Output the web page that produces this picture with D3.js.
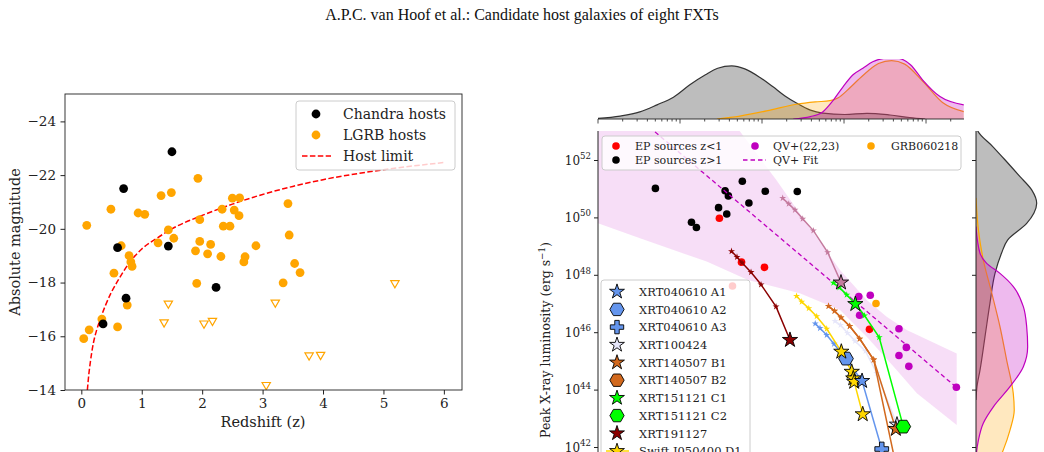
<!DOCTYPE html>
<html><head><meta charset="utf-8">
<script src="https://cdn.jsdelivr.net/npm/d3@7"></script>
<style>body{margin:0;background:#fff;overflow:hidden}svg{display:block;font-family:"DejaVu Serif";}</style>
</head><body><svg id="c" width="1044" height="452"></svg>
<script>
// ---------------- LEFT PANEL DATA ----------------
const chandraZ = [0.36, 0.60, 0.70, 0.74, 1.44, 1.50, 2.23];
const chandraM = [-16.46, -19.30, -21.50, -17.42, -19.36, -22.87, -17.82];
const lgrbZ = [0.04,0.09,0.13,0.34,0.49,0.54,0.60,0.66,0.76,0.79,0.82,0.84,0.94,1.05,1.27,1.32,1.44,1.49,1.53,1.89,1.91,1.93,1.96,1.96,2.09,2.14,2.31,2.35,2.33,2.46,2.50,2.53,2.62,2.61,2.69,2.71,2.89,3.34,3.42,3.44,3.53,3.62];
const lgrbM = [-15.91,-20.13,-16.24,-16.64,-20.73,-18.35,-16.35,-19.37,-17.16,-19.00,-18.77,-18.60,-20.59,-20.54,-19.48,-21.24,-19.96,-21.35,-19.65,-19.18,-17.97,-21.88,-20.34,-19.53,-19.07,-19.42,-18.97,-20.10,-20.73,-20.10,-21.14,-20.70,-21.15,-20.49,-18.77,-18.96,-19.37,-17.99,-20.94,-19.77,-18.71,-18.37];
const limitZ = [1.37,1.44,2.03,2.17,3.06,3.21,3.77,3.96,5.19];
const limitM = [-16.52,-17.22,-16.48,-16.58,-14.19,-17.26,-15.29,-15.31,-17.98];
const hostLimitZ = [0.1,0.125,0.15,0.2,0.25,0.3,0.4,0.5,0.6,0.8,1.0,1.25,1.5,2.0,2.5,3.0,3.5,4.0,5.0,6.0];
const hostLimitM = [-14.0,-14.6,-15.05,-15.75,-16.2,-16.55,-17.15,-17.65,-18.05,-18.75,-19.25,-19.65,-20.0,-20.5,-20.92,-21.28,-21.58,-21.83,-22.2,-22.47];
const leftXTicks = [0,1,2,3,4,5,6];
const leftYTicks = [-24,-22,-20,-18,-16,-14];

// ---------------- RIGHT PANEL DATA (log10 values) ----------------
const epLowT = [1.48, 1.75, 2.03, 3.31, 1.64];
const epLowL = [49.97, 48.44, 48.26, 46.10, 47.61];
const epHighT = [0.70, 1.14, 1.20, 1.47, 1.55, 1.59, 1.57, 1.76, 1.84, 2.04, 2.43];
const epHighL = [51.01, 49.83, 49.65, 50.34, 50.93, 50.75, 50.12, 51.26, 50.50, 50.91, 50.90];
const qvT = [3.18, 3.32, 3.19, 3.67, 3.76, 3.67, 3.79, 4.37];
const qvL = [47.24, 47.29, 46.59, 46.12, 45.47, 45.19, 44.81, 44.08];
const grbT = [3.39];
const grbL = [47.0];
const fitT = [0.695, 4.366];
const fitL = [52.98, 44.09];
const bandUpT = [0, 1.73, 2.175, 2.545, 2.951, 3.277, 3.52, 3.765, 4.374];
const bandUpL = [58.0, 53.0, 51.30, 49.79, 48.17, 47.12, 46.54, 46.08, 45.26];
const bandLoT = [0, 0.512, 1.325, 1.829, 2.46, 2.951, 3.277, 3.606, 3.888, 4.374];
const bandLoL = [49.80, 49.27, 48.46, 47.82, 47.36, 46.77, 45.84, 44.80, 43.87, 42.77];

const xrt191127T = [1.628,1.695,1.756,1.866,1.988,2.171,2.341];
const xrt191127L = [48.82,48.62,48.42,48.09,47.66,46.89,45.73];
const mauveT = [2.252,2.326,2.402,2.496,2.626,2.801,2.963];
const mauveL = [50.67,50.47,50.26,49.95,49.54,48.78,47.73];
const xrt151121T = [2.870,2.943,3.033,3.138,3.250,3.429,3.723];
const xrt151121L = [47.72,47.56,47.30,46.98,46.58,45.82,42.71];
const xrt140507B1T = [2.811,2.884,2.963,3.070,3.191,3.362,3.632];
const xrt140507B1L = [46.91,46.74,46.51,46.21,45.77,45.04,42.63];
const xrt140507B2T = [2.811,2.884,2.963,3.070,3.191,3.362,3.66];
const xrt140507B2L = [46.91,46.74,46.51,46.21,45.77,45.04,41.0];
const xrt100424T = [2.890,2.957,3.043,3.134,3.262,3.399,3.646];
const xrt100424L = [46.39,46.25,45.97,45.69,45.34,44.57,42.78];
const xrt040610T = [2.649,2.707,2.789,2.878,2.972,3.024,3.220,3.460];
const xrt040610L = [46.30,46.14,45.90,45.59,45.26,45.08,44.30,41.93];
const swiftD1T = [2.421,2.484,2.570,2.667,2.789,2.967,3.094,3.113,3.124,3.228];
const swiftD1L = [47.26,47.06,46.83,46.55,46.12,45.32,44.62,44.39,44.27,43.14];

const kdeTopGrayT = [0,0.27,0.51,0.72,0.92,1.12,1.31,1.46,1.63,1.79,1.98,2.13,2.28,2.42,2.59,2.74,3.01,3.28,3.56,3.80,3.99];
const kdeTopGrayD = [0.01,0.05,0.12,0.24,0.37,0.58,0.75,0.86,0.90,0.85,0.70,0.55,0.39,0.27,0.15,0.10,0.076,0.097,0.068,0.025,0];
const kdeTopOrangeT = [1.45,1.73,2.10,2.42,2.65,2.83,2.93,3.05,3.17,3.29,3.42,3.58,3.74,3.96,4.21,4.46];
const kdeTopOrangeD = [0,0.05,0.15,0.25,0.29,0.31,0.36,0.50,0.66,0.81,0.94,0.99,0.93,0.64,0.27,0.124];
const kdeTopMagT = [2.38,2.59,2.74,2.87,2.99,3.11,3.23,3.35,3.52,3.65,3.81,3.96,4.17,4.46];
const kdeTopMagD = [0,0.04,0.12,0.32,0.55,0.75,0.86,0.97,1.03,1.03,0.92,0.66,0.38,0.24];
const kdeRightGrayL = [53.3,53.01,52.46,52.0,51.42,50.95,50.49,50.15,49.79,49.21,48.75,48.05,47.01,45.84,44.68,44.10,43.64];
const kdeRightGrayD = [0,0.03,0.28,0.48,0.725,0.92,1.0,0.955,0.835,0.52,0.42,0.313,0.23,0.148,0.066,0.016,0];
const kdeRightOrangeL = [50.68,49.56,48.52,47.36,46.19,45.03,43.87,43.29,42.59,41.90,41.2,40.5];
const kdeRightOrangeD = [0,0.04,0.12,0.26,0.395,0.505,0.614,0.63,0.56,0.45,0.3,0.15];
const kdeRightMagL = [49.68,48.75,48.40,48.05,47.59,46.89,46.19,45.49,44.80,44.10,43.40,42.83,42.24,41.83,41.3];
const kdeRightMagD = [0,0.066,0.176,0.395,0.615,0.78,0.835,0.851,0.78,0.56,0.286,0.12,0.04,0.01,0];

const lumTicks = [52,50,48,46,44,42];
const topLegend = ["EP sources z<1","EP sources z>1","QV+(22,23)","QV+ Fit","GRB060218"];
const fxtLegend = ["XRT040610 A1","XRT040610 A2","XRT040610 A3","XRT100424","XRT140507 B1","XRT140507 B2","XRT151121 C1","XRT151121 C2","XRT191127","Swift J050400 D1"];

// ---------------- DRAW ----------------
const svg = d3.select('#c');
const zip = (a,b) => a.map((v,i)=>[v,b[i]]);
const P = v => Math.pow(10, v);

svg.append('text').attr('x',522).attr('y',20).attr('text-anchor','middle')
  .style('font-family','"Liberation Serif"').style('font-size','16px').attr('fill','#111')
  .text('A.P.C. van Hoof et al.: Candidate host galaxies of eight FXTs');

// ===== Left panel =====
const xL = d3.scaleLinear().domain([-0.27,6.30]).range([65,462]);
const yL = d3.scaleLinear().domain([-14,-25.02]).range([390,94]);
const gL = svg.append('g');
const ax1 = gL.append('g').attr('transform','translate(0,390)')
  .call(d3.axisBottom(xL).tickValues(leftXTicks).tickFormat(d3.format('d')).tickSize(4.5).tickPadding(3.5));
const ay1 = gL.append('g').attr('transform','translate(65,0)')
  .call(d3.axisLeft(yL).tickValues(leftYTicks).tickFormat(d3.format('d')).tickSize(4.5).tickPadding(4.5));
[ax1,ay1].forEach(a=>{a.select('.domain').remove();a.selectAll('text').style('font-family','DejaVu Serif').style('font-size','13.5px').attr('fill','#222');a.selectAll('line').attr('stroke','#222');});
gL.append('defs').append('clipPath').attr('id','clipL').append('rect').attr('x',65).attr('y',94).attr('width',397).attr('height',296);
const pL = gL.append('g').attr('clip-path','url(#clipL)');
pL.append('path').datum(zip(hostLimitZ,hostLimitM))
  .attr('d', d3.line().x(d=>xL(d[0])).y(d=>yL(d[1])).curve(d3.curveMonotoneX))
  .attr('fill','none').attr('stroke','#ff0000').attr('stroke-width',1.5).attr('stroke-dasharray','5.5,2.4');
pL.selectAll('.lg').data(zip(lgrbZ,lgrbM)).enter().append('circle')
  .attr('cx',d=>xL(d[0])).attr('cy',d=>yL(d[1])).attr('r',4.4).attr('fill','#ffa500');
pL.selectAll('.ch').data(zip(chandraZ,chandraM)).enter().append('circle')
  .attr('cx',d=>xL(d[0])).attr('cy',d=>yL(d[1])).attr('r',4.4).attr('fill','#000');
pL.selectAll('.lim').data(zip(limitZ,limitM)).enter().append('path')
  .attr('d', d3.symbol().type(d3.symbolTriangle).size(30))
  .attr('transform',d=>`translate(${xL(d[0])},${yL(d[1])}) rotate(180)`)
  .attr('fill','#fff').attr('stroke','#ffa500').attr('stroke-width',1.2);
gL.append('rect').attr('x',65).attr('y',94).attr('width',397).attr('height',296).attr('fill','none').attr('stroke','#222').attr('stroke-width',0.9);
// legend
const lgL = gL.append('g');
lgL.append('rect').attr('x',296).attr('y',101).attr('width',159).attr('height',69).attr('rx',3)
  .attr('fill','rgba(255,255,255,0.8)').attr('stroke','#cccccc');
lgL.append('circle').attr('cx',316).attr('cy',114).attr('r',4.4).attr('fill','#000');
lgL.append('circle').attr('cx',316).attr('cy',135).attr('r',4.4).attr('fill','#ffa500');
lgL.append('line').attr('x1',302).attr('x2',331).attr('y1',156).attr('y2',156).attr('stroke','#ff0000').attr('stroke-width',1.5).attr('stroke-dasharray','5.5,2.4');
['Chandra hosts','LGRB hosts','Host limit'].forEach((t,i)=>lgL.append('text').attr('x',343).attr('y',119+i*21).style('font-size','14px').attr('fill','#222').text(t));
gL.append('text').attr('x',263).attr('y',427).attr('text-anchor','middle').style('font-size','14.5px').attr('fill','#222').text('Redshift (z)');
gL.append('text').attr('transform','translate(19.5,242) rotate(-90)').attr('text-anchor','middle').style('font-size','14.5px').attr('fill','#222').text('Absolute magnitude');

// ===== Right panel =====
const xR = d3.scaleLog().domain([1, P(4.463)]).range([598,964]);
const yR = d3.scaleLog().domain([P(53), P(40)]).range([131.3,504.4]);
const line = d3.line().x(d=>xR(P(d[0]))).y(d=>yR(P(d[1])));
const defs = svg.append('defs');
defs.append('clipPath').attr('id','clipM').append('rect').attr('x',598).attr('y',131).attr('width',366).attr('height',400);
defs.append('clipPath').attr('id','clipT').append('rect').attr('x',598).attr('y',59).attr('width',366).attr('height',60);
defs.append('clipPath').attr('id','clipR').append('rect').attr('x',976).attr('y',131).attr('width',70).attr('height',400);

// top KDE
const yK = d3.scaleLinear().domain([0,1]).range([119,60]);
const gT = svg.append('g').attr('clip-path','url(#clipT)');
const areaT = d3.area().x(d=>xR(P(d[0]))).y0(119).y1(d=>yK(d[1])).curve(d3.curveMonotoneX);
const lineT = d3.line().x(d=>xR(P(d[0]))).y(d=>yK(d[1])).curve(d3.curveMonotoneX);
[[kdeTopGrayT,kdeTopGrayD,'rgba(0,0,0,0.26)','#333'],[kdeTopOrangeT,kdeTopOrangeD,'rgba(255,165,0,0.25)','#ffa500'],[kdeTopMagT,kdeTopMagD,'rgba(191,0,191,0.27)','#bf00bf']].forEach(([t,d,f,s])=>{
  const dat = zip(t,d);
  gT.append('path').datum(dat).attr('d',areaT).attr('fill',f);
  gT.append('path').datum(dat).attr('d',lineT).attr('fill','none').attr('stroke',s).attr('stroke-width',1.2);
});
const tAx = svg.append('g').attr('transform','translate(0,119)');
tAx.append('line').attr('x1',598).attr('x2',964).attr('stroke','#222').attr('stroke-width',0.9);
const minorT = [];
for(let e=0;e<5;e++) for(let k=1;k<10;k++){const v=k*P(e); if(v<=P(4.463)) minorT.push({v,major:k===1});}
tAx.selectAll('.tk').data(minorT).enter().append('line')
  .attr('x1',d=>xR(d.v)).attr('x2',d=>xR(d.v)).attr('y1',0).attr('y2',d=>d.major?4.5:2.5).attr('stroke','#222').attr('stroke-width',0.8);

// right KDE
const xK = d3.scaleLinear().domain([0,1]).range([976,1036.7]);
const gR = svg.append('g').attr('clip-path','url(#clipR)');
const areaR = d3.area().y(d=>yR(P(d[0]))).x0(976).x1(d=>xK(d[1])).curve(d3.curveMonotoneY);
const lineR = d3.line().y(d=>yR(P(d[0]))).x(d=>xK(d[1])).curve(d3.curveMonotoneY);
[[kdeRightGrayL,kdeRightGrayD,'rgba(0,0,0,0.26)','#333'],[kdeRightOrangeL,kdeRightOrangeD,'rgba(255,165,0,0.25)','#ffa500'],[kdeRightMagL,kdeRightMagD,'rgba(191,0,191,0.27)','#bf00bf']].forEach(([l,d,f,s])=>{
  const dat = zip(l,d);
  gR.append('path').datum(dat).attr('d',areaR).attr('fill',f);
  gR.append('path').datum(dat).attr('d',lineR).attr('fill','none').attr('stroke',s).attr('stroke-width',1.2);
});
const rAx = svg.append('g').attr('transform','translate(976,0)')
  .call(d3.axisLeft(yR).tickValues(lumTicks.map(P)).tickFormat('').tickSize(4));
rAx.select('.domain').attr('d','M0,131V460').attr('stroke','#222');
rAx.selectAll('line').attr('stroke','#222');

// main panel
const gM = svg.append('g').attr('clip-path','url(#clipM)');
const bandPoly = zip(bandUpT,bandUpL).concat(zip(bandLoT,bandLoL).reverse());
gM.append('path').datum(bandPoly).attr('d', line.curve(d3.curveLinear)(bandPoly)+'Z')
  .attr('fill','rgba(191,0,191,0.13)');
const dot = (T,L,c)=>gM.selectAll(null).data(zip(T,L)).enter().append('circle')
  .attr('cx',d=>xR(P(d[0]))).attr('cy',d=>yR(P(d[1]))).attr('r',3.8).attr('fill',c);
dot(epHighT,epHighL,'#000');
dot(epLowT,epLowL,'#ff0000');
dot(qvT,qvL,'#bf00bf');
dot(grbT,grbL,'#ffa500');
gM.append('path').datum(zip(fitT,fitL)).attr('d',line).attr('fill','none').attr('stroke','#bf00bf').attr('stroke-width',1.3).attr('stroke-dasharray','4.5,3');

const hexType = {draw(ctx,size){const r=Math.sqrt(size/2.598);for(let i=0;i<6;i++){const a=i*Math.PI/3;const x=r*Math.cos(a),y=r*Math.sin(a);if(i)ctx.lineTo(x,y);else ctx.moveTo(x,y);}ctx.closePath();}};
const shapes = {star:[d3.symbolStar,72], hex:[hexType,140], plus:[d3.symbolCross,105]};
const curves = [
  {T:mauveT,L:mauveL,c:'#c47a9e',big:{6:'star'}},
  {T:xrt191127T,L:xrt191127L,c:'#8b0000',big:{6:'star'}},
  {T:xrt100424T,L:xrt100424L,c:'#e6e6fa',big:{6:'star'}},
  {T:xrt040610T,L:xrt040610L,c:'#6495ed',big:{5:'hex',6:'star',7:'plus'}},
  {T:swiftD1T,L:swiftD1L,c:'#ffd700',big:{5:'star',6:'star',7:'star',8:'star',9:'star'}},
  {T:xrt140507B2T,L:xrt140507B2L,c:'#d2691e',big:{6:'hex'}},
  {T:xrt140507B1T,L:xrt140507B1L,c:'#d2691e',big:{6:'star'}},
  {T:xrt151121T,L:xrt151121L,c:'#00ff00',big:{3:'star',6:'hex'}},
];
curves.forEach(cv=>{
  const dat = zip(cv.T,cv.L);
  gM.append('path').datum(dat).attr('d',line).attr('fill','none').attr('stroke',cv.c).attr('stroke-width',1.5);
  gM.selectAll(null).data(dat.filter((d,i)=>!(i in cv.big))).enter().append('path')
    .attr('d',d3.symbol().type(d3.symbolStar).size(15))
    .attr('transform',d=>`translate(${xR(P(d[0]))},${yR(P(d[1]))})`).attr('fill',cv.c);
});
const bigOrder = [[3,5],[4,5],[4,6],[4,7],[4,8],[3,6],[4,9],[3,7],[2,6],[5,6],[6,6],[7,3],[7,6],[1,6],[0,6]];
bigOrder.forEach(([ci,pi])=>{
  const cv=curves[ci]; const sh=shapes[cv.big[pi]];
  gM.append('path').attr('d',d3.symbol().type(sh[0]).size(sh[1]))
    .attr('transform',`translate(${xR(P(cv.T[pi]))},${yR(P(cv.L[pi]))})`)
    .attr('fill',cv.c).attr('stroke','#000').attr('stroke-width',0.9);
});

// left axis of main
const mAx = svg.append('g').attr('transform','translate(598,0)')
  .call(d3.axisLeft(yR).tickValues(lumTicks.map(P)).tickFormat('').tickSize(4));
mAx.select('.domain').attr('d','M0,131V460').attr('stroke','#222');
mAx.selectAll('line').attr('stroke','#222');
lumTicks.forEach(e=>{
  const t = svg.append('text').attr('x',591).attr('y',yR(P(e))+4.5).attr('text-anchor','end').style('font-size','12px').attr('fill','#222');
  t.append('tspan').text('10');
  t.append('tspan').attr('dy',-5.5).style('font-size','8.6px').text(String(e));
});
const yl = svg.append('text').attr('transform','translate(550,340) rotate(-90)').attr('text-anchor','middle').style('font-size','12.5px').attr('fill','#222');
yl.append('tspan').text('Peak X-ray luminosity (erg s');
yl.append('tspan').attr('dy',-5).style('font-size','8.8px').text('\u22121');
yl.append('tspan').attr('dy',5).text(')');

// top legend
const lt = svg.append('g');
lt.append('rect').attr('x',602).attr('y',136).attr('width',359).attr('height',34).attr('rx',3).attr('fill','rgba(255,255,255,0.8)').attr('stroke','#cccccc');
lt.append('circle').attr('cx',616).attr('cy',146).attr('r',3.8).attr('fill','#ff0000');
lt.append('circle').attr('cx',616).attr('cy',160).attr('r',3.8).attr('fill','#000');
lt.append('circle').attr('cx',755).attr('cy',146).attr('r',3.8).attr('fill','#bf00bf');
lt.append('line').attr('x1',743).attr('x2',766).attr('y1',160).attr('y2',160).attr('stroke','#bf00bf').attr('stroke-width',1.3).attr('stroke-dasharray','4.5,3');
lt.append('circle').attr('cx',871).attr('cy',146).attr('r',3.8).attr('fill','#ffa500');
[[635,146,0],[635,160,1],[773,146,2],[773,160,3],[891,146,4]].forEach(([x,y,i])=>
  lt.append('text').attr('x',x).attr('y',y+4).style('font-size','11px').attr('fill','#222').text(topLegend[i]));

// FXT legend
const lf = svg.append('g');
lf.append('rect').attr('x',601).attr('y',280).attr('width',149).attr('height',200).attr('rx',3).attr('fill','rgba(255,255,255,0.8)').attr('stroke','#cccccc');
const fxtSym = [['star','#6495ed'],['hex','#6495ed'],['plus','#6495ed'],['star','#e6e6fa'],['star','#d2691e'],['hex','#d2691e'],['star','#00ff00'],['hex','#00ff00'],['star','#8b0000'],['star','#ffd700']];
fxtLegend.forEach((t,i)=>{
  const y = 291.7 + i*17.7;
  const sh = shapes[fxtSym[i][0]];
  if(i===9) lf.append('line').attr('x1',606).attr('x2',629).attr('y1',y).attr('y2',y).attr('stroke','#ffd700').attr('stroke-width',1.5);
  lf.append('path').attr('d',d3.symbol().type(sh[0]).size(sh[1]*0.95)).attr('transform',`translate(617,${y})`)
    .attr('fill',fxtSym[i][1]).attr('stroke','#000').attr('stroke-width',0.9);
  lf.append('text').attr('x',639).attr('y',y+4.2).style('font-size','11.5px').attr('fill','#222').text(t);
});
</script></body></html>
